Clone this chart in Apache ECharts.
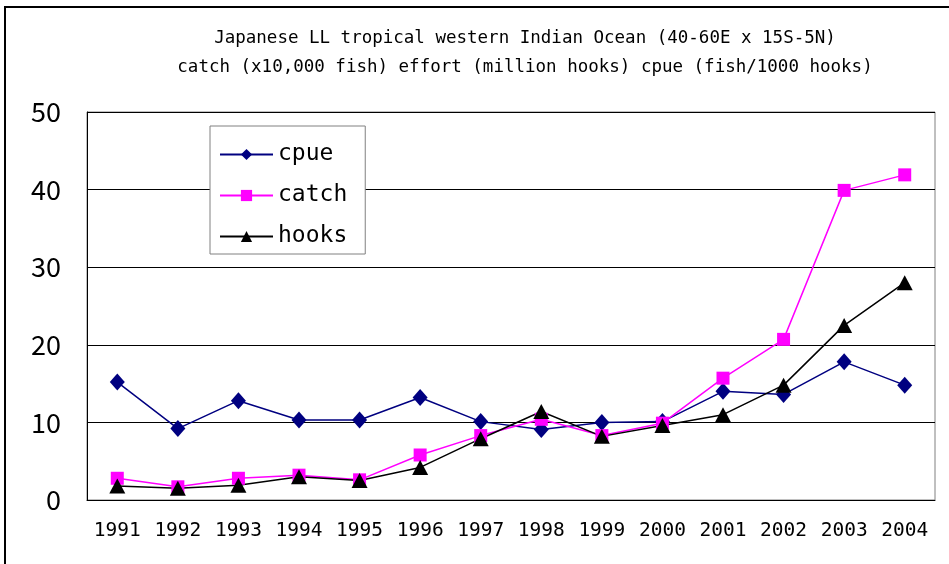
<!DOCTYPE html>
<html><head><meta charset="utf-8">
<script src="https://cdn.jsdelivr.net/npm/echarts@6/dist/echarts.min.js"></script>
<style>html,body{margin:0;padding:0;background:#fff}#c{width:949px;height:564px}</style>
</head><body><div id="c"></div>
<script>
const years = ['1991','1992','1993','1994','1995','1996','1997','1998','1999','2000','2001','2002','2003','2004'];
const cpue  = [15.2, 9.2, 12.8, 10.3, 10.3, 13.2, 10.1, 9.1, 10.0, 10.1, 14.0, 13.6, 17.8, 14.8];
const catchV = [2.8, 1.7, 2.8, 3.2, 2.6, 5.8, 8.3, 10.4, 8.3, 9.9, 15.7, 20.7, 39.9, 41.9];
const hooks = [1.8, 1.5, 1.9, 3.0, 2.5, 4.2, 7.9, 11.4, 8.2, 9.6, 11.0, 14.8, 22.5, 28.0];
const titleLines = ['Japanese LL tropical western Indian Ocean (40-60E x 15S-5N)', 'catch (x10,000 fish) effort (million hooks) cpue (fish/1000 hooks)'];
const mono = '"DejaVu Sans Mono", monospace';
const sans = '"Noto Sans CJK JP", "Noto Sans", sans-serif';
const chart = echarts.init(document.getElementById('c'));
chart.setOption({
  animation: false,
  backgroundColor: '#fff',
  textStyle: { fontFamily: mono },
  title: {
    text: titleLines.join('\n'), left: 520, top: 19, textAlign: 'center',
    textStyle: { fontSize: 17.5, fontWeight: 'normal', color: '#000', lineHeight: 29, fontFamily: mono }
  },
  graphic: [{
    type: 'polyline', silent: true,
    shape: { points: [[5, 564], [5, 7], [949, 7]] },
    style: { stroke: '#000', lineWidth: 2, fill: null }
  }],
  grid: { left: 87, right: 14, top: 112, bottom: 64, show: true, borderColor: '#808080', borderWidth: 1, backgroundColor: 'transparent' },
  legend: {
    orient: 'vertical', left: 210, top: 126,
    backgroundColor: '#fff', borderColor: '#808080', borderWidth: 1,
    padding: [17, 18, 6, 9], itemGap: 18, itemWidth: 53, itemHeight: 14,
    textStyle: { fontSize: 23, color: '#000', fontFamily: mono },
    data: ['cpue', 'catch', 'hooks']
  },
  xAxis: {
    type: 'category', data: years, boundaryGap: true,
    axisLine: { lineStyle: { color: '#000', width: 1 } },
    axisTick: { inside: true, length: 8, lineStyle: { color: '#000' } },
    axisLabel: { interval: 0, fontSize: 19.5, color: '#000', margin: 21, fontFamily: mono }
  },
  yAxis: {
    type: 'value', min: 0, max: 50, interval: 10,
    axisLine: { show: true, lineStyle: { color: '#000' } },
    axisTick: { show: false },
    axisLabel: { fontSize: 27, color: '#000', margin: 26, fontFamily: sans },
    splitLine: { lineStyle: { color: '#000', width: 1 } }
  },
  series: [
    { name: 'cpue', type: 'line', data: cpue, symbol: 'diamond', symbolSize: [15, 17],
      itemStyle: { color: '#000080' }, lineStyle: { color: '#000080', width: 1.5 } },
    { name: 'catch', type: 'line', data: catchV, symbol: 'rect', symbolSize: 13,
      itemStyle: { color: '#ff00ff' }, lineStyle: { color: '#ff00ff', width: 1.5 } },
    { name: 'hooks', type: 'line', data: hooks, symbol: 'triangle', symbolSize: [16, 15],
      itemStyle: { color: '#000' }, lineStyle: { color: '#000', width: 1.5 } }
  ]
});
</script></body></html>
